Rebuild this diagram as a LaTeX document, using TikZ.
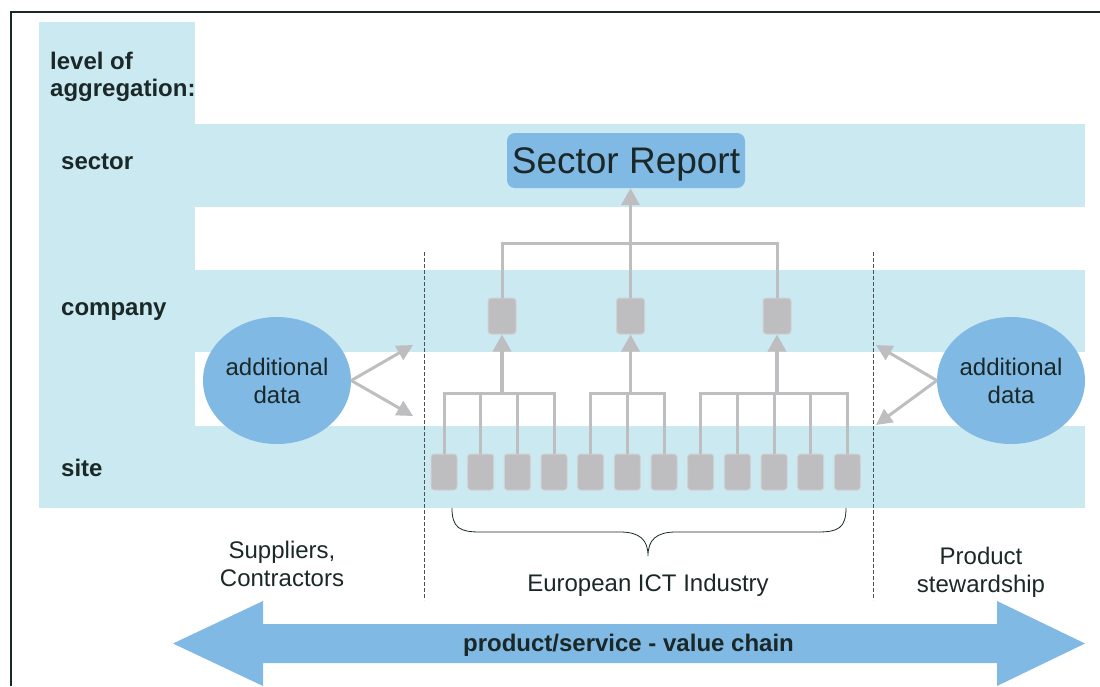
\documentclass[tikz,border=0pt]{standalone}
\usepackage{fontspec}
\setmainfont{Liberation Sans}
\usetikzlibrary{arrows.meta,shapes.geometric}
\definecolor{band}{RGB}{203,233,241}
\definecolor{ballblue}{RGB}{128,185,228}
\definecolor{unit}{RGB}{190,190,192}
\definecolor{ink}{RGB}{27,40,40}
\begin{document}
\begin{tikzpicture}[x=1pt,y=-1pt,
    levelname/.style={font=\fontsize{24}{27}\selectfont\bfseries,text=ink,anchor=west,inner sep=0pt,align=left},
    plaintext/.style={font=\fontsize{24}{28}\selectfont,text=ink,align=center,inner sep=0pt},
    sitebox/.style={fill=unit,draw=unit!70!white,line width=1pt,rounded corners=3pt,minimum width=26pt,minimum height=36pt,inner sep=0pt},
    companybox/.style={sitebox,minimum width=28pt},
    extdata/.style={ellipse,fill=ballblue,minimum width=148pt,minimum height=127pt,inner sep=0pt,plaintext},
    branch/.style={draw=unit,line width=3pt},
    feed/.style={draw=unit,line width=3.5pt,-{Triangle[width=18pt,length=17pt]}},
    feedthin/.style={draw=unit,line width=3pt,-{Triangle[width=16pt,length=16pt]}},
    divider/.style={draw=ink!80,line width=0.8pt,dash pattern=on 4pt off 2pt}]
    \useasboundingbox (0,0) rectangle (1100,686);
    \draw[ink,line width=2pt] (1100,12) -- (11,12) -- (11,686);
    \fill[band] (39,22) rectangle (195,508);
    \fill[band] (195,124) rectangle (1085,207);
    \fill[band] (195,270) rectangle (1085,352);
    \fill[band] (195,426) rectangle (1085,508);
    \node[levelname] (aggr) at (50,77) {level of\\aggregation:};
    \node[levelname] (sector) at (61,162) {sector};
    \node[levelname] (company) at (61,312) {company};
    \node[levelname] (site) at (61,468) {site};
    \node[fill=ballblue,rounded corners=8pt,minimum width=238pt,minimum height=55pt,inner sep=0pt,text depth=0pt,
        font=\fontsize{37}{40}\selectfont,text=ink] (report) at (626,160.5) {Sector Report};
    \node[companybox] (c1) at (502,316) {};
    \node[companybox] (c2) at (630.5,316) {};
    \node[companybox] (c3) at (777,316) {};
    \foreach \i in {1,...,12}
        \node[sitebox] (s\i) at ({444+36.67*(\i-1)},472) {};
    \coordinate (top) at (630.5,243);
    \coordinate (bus1) at (502,393);
    \coordinate (bus2) at (630.5,393);
    \coordinate (bus3) at (777,393);
    \draw[branch] (c1.north) |- (top) -| (c3.north);
    \draw[feed] (c2.north) -- (c2.north |- report.south);
    \draw[branch] (s1.north) |- (bus1) -| (s4.north);
    \draw[branch] (s5.north) |- (bus2) -| (s7.north);
    \draw[branch] (s8.north) |- (bus3) -| (s12.north);
    \foreach \i in {2,3}
        \draw[branch] (s\i.north) -- (s\i.north |- bus1);
    \draw[branch] (s6.north) -- (s6.north |- bus2);
    \foreach \i in {9,10,11}
        \draw[branch] (s\i.north) -- (s\i.north |- bus3);
    \draw[feed] (bus1) -- (c1.south);
    \draw[feed] (bus2) -- (c2.south);
    \draw[feed] (bus3) -- (c3.south);
    \node[extdata] (addleft) at (277,380.5) {additional\\data};
    \node[extdata] (addright) at (1011,380.5) {additional\\data};
    \coordinate (inup) at (413,345);
    \coordinate (indown) at (413,416);
    \coordinate (outup) at (876,345);
    \coordinate (outdown) at (876,425);
    \draw[feedthin] (addleft.east) -- (inup);
    \draw[feedthin] (addleft.east) -- (indown);
    \draw[feedthin] (addright.west) -- (outup);
    \draw[feedthin] (addright.west) -- (outdown);
    \draw[divider] (424,252) -- (424,600);
    \draw[divider] (873,252) -- (873,600);
    \draw[ink,line width=0.8pt] (452,508) .. controls (452,528) and (460,532) .. (480,532) -- (620,532)
        .. controls (640,532) and (648,540) .. (648,556) .. controls (648,540) and (656,532) .. (676,532)
        -- (818,532) .. controls (838,532) and (846,528) .. (846,508);
    \node[plaintext] (suppliers) at (282,564) {Suppliers,\\Contractors};
    \node[plaintext] (industry) at (648,585) {European ICT Industry};
    \node[plaintext] (stewardship) at (981,572) {Product\\stewardship};
    \fill[ballblue] (173,643.5) -- (263,601) -- (263,624) -- (997,624) -- (997,601) -- (1085,643.5)
        -- (997,686) -- (997,663) -- (263,663) -- (263,686) -- cycle;
    \node[plaintext,font=\fontsize{24}{28}\selectfont\bfseries] (chain) at (628.5,645) {product/service - value chain};
\end{tikzpicture}
\end{document}
